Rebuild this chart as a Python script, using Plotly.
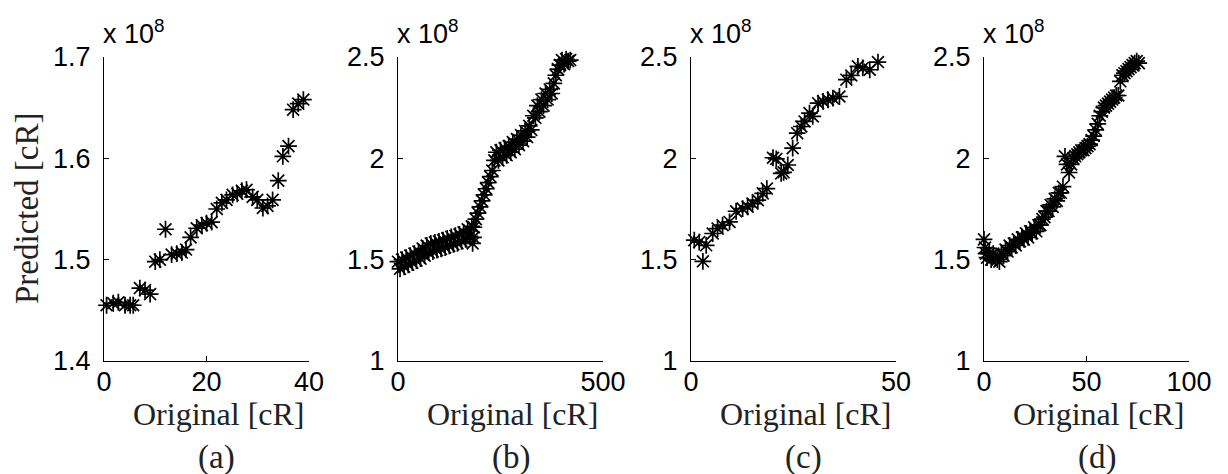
import plotly.graph_objects as go

W, H = 1228, 474

# ---------------- data (Predicted values in units of 1e8) ----------------
a_x = [0.5, 1.8, 2.8, 4.1, 5.1, 5.7, 7.0, 8.0, 9.0, 10.0, 10.9, 12.0, 13.2, 14.2, 15.2, 16.0,
       16.9, 18.1, 19.1, 20.0, 21.0, 22.0, 23.0, 23.9, 25.1, 26.0, 26.9, 27.8, 29.0, 29.9,
       31.0, 31.9, 32.9, 34.0, 34.9, 36.0, 36.9, 37.9, 38.9]
a_y = [1.455, 1.457, 1.458, 1.455, 1.455, 1.455, 1.472, 1.470, 1.466, 1.498, 1.500, 1.530,
       1.505, 1.506, 1.507, 1.510, 1.522, 1.531, 1.534, 1.536, 1.537, 1.550, 1.556, 1.559,
       1.564, 1.565, 1.568, 1.569, 1.562, 1.559, 1.551, 1.553, 1.559, 1.578, 1.602, 1.612,
       1.648, 1.654, 1.658]

b_x = [0, 5, 10, 15, 20, 25, 30, 35, 40, 45, 50, 55, 60, 65, 70, 75, 80, 85, 90, 95, 100,
       105, 110, 115, 120, 125, 130, 135, 140, 145, 150, 155, 160, 165, 170, 175, 180, 182,
       184, 185, 190, 195, 200, 205, 210, 215, 220, 225, 230, 235, 240, 245, 250, 255, 260,
       265, 270, 275, 280, 285, 290, 295, 300, 305, 310, 315, 320, 325, 330, 335, 340, 345,
       350, 355, 360, 365, 370, 375, 380, 385, 390, 395, 400, 405, 410, 415, 420]
b_y = [1.49, 1.455, 1.50, 1.465, 1.51, 1.475, 1.52, 1.485, 1.53, 1.495, 1.54, 1.505, 1.555,
       1.52, 1.57, 1.535, 1.58, 1.54, 1.585, 1.547, 1.59, 1.553, 1.596, 1.56, 1.605, 1.568,
       1.612, 1.575, 1.618, 1.581, 1.625, 1.59, 1.635, 1.60, 1.65, 1.615, 1.665, 1.58, 1.61,
       1.66, 1.70, 1.73, 1.76, 1.79, 1.82, 1.85, 1.88, 1.91, 1.94, 1.99, 2.03, 1.99, 2.04,
       2.005, 2.05, 2.015, 2.06, 2.03, 2.08, 2.045, 2.095, 2.065, 2.115, 2.085, 2.135, 2.105,
       2.16, 2.14, 2.21, 2.20, 2.26, 2.23, 2.29, 2.26, 2.32, 2.29, 2.34, 2.32, 2.37, 2.41,
       2.44, 2.46, 2.485, 2.465, 2.49, 2.48, 2.485]

c_x = [0.8, 2.0, 2.9, 3.7, 5.3, 6.5, 7.7, 9.4, 11.0, 12.6, 13.8, 15.0, 16.3, 17.5, 18.5,
       20.0, 20.8, 22.0, 22.6, 23.6, 24.8, 25.9, 26.9, 27.7, 28.9, 29.7, 31.0, 32.2, 33.4,
       34.6, 36.2, 37.9, 39.1, 40.7, 41.9, 43.6, 45.6]
c_y = [1.596, 1.587, 1.492, 1.571, 1.629, 1.653, 1.670, 1.686, 1.739, 1.752, 1.761, 1.777,
       1.794, 1.827, 1.851, 2.003, 1.997, 1.926, 1.931, 1.967, 2.050, 2.124, 2.157, 2.182,
       2.223, 2.207, 2.272, 2.281, 2.289, 2.297, 2.305, 2.388, 2.409, 2.454, 2.446, 2.437,
       2.475]

d_x = [0, 0.5, 1, 1.5, 2.5, 3.5, 4.5, 5.5, 6.5, 7.5, 8.5, 9.5, 10.5, 11.5, 12.5, 13.5, 14.5,
       15.5, 16.5, 17.5, 18.5, 19.5, 20.5, 21.5, 22.5, 23.5, 24.5, 25.5, 26.5, 27.5, 28.5,
       29.5, 30.5, 31.5, 32.5, 33.5, 34.5, 35.5, 36.5, 37.5, 38.5, 39.5, 40.5, 41.5, 42.5,
       43.5, 44.5, 45.5, 46.5, 47.5, 48.5, 49.5, 50.5, 51.5, 52.5, 53.5, 54.5, 55.5, 56.5,
       57.5, 58.5, 59.5, 60.5, 61.5, 62.5, 63.5, 64.5, 65.5, 66.5, 67.5, 68.5, 69.5, 70.5,
       71.5, 72.5, 73.5, 74.5, 75.5]
d_y = [1.60, 1.56, 1.53, 1.51, 1.53, 1.50, 1.53, 1.51, 1.50, 1.49, 1.53, 1.52, 1.55, 1.54,
       1.57, 1.56, 1.58, 1.57, 1.60, 1.59, 1.61, 1.60, 1.63, 1.61, 1.64, 1.63, 1.66, 1.64,
       1.67, 1.67, 1.70, 1.71, 1.74, 1.74, 1.77, 1.76, 1.80, 1.79, 1.83, 1.83, 1.86, 2.01,
       1.97, 1.93, 1.97, 2.00, 2.01, 2.02, 2.03, 2.04, 2.04, 2.05, 2.06, 2.07, 2.09, 2.11,
       2.14, 2.17, 2.21, 2.23, 2.25, 2.26, 2.27, 2.28, 2.29, 2.30, 2.31, 2.31, 2.38, 2.41,
       2.42, 2.43, 2.44, 2.45, 2.46, 2.47, 2.48, 2.47]

panel_labels = ["(a)", "(b)", "(c)", "(d)"]
x_ranges = [[0, 40], [0, 500], [0, 50], [0, 100]]
x_ticks = [[0, 20, 40], [0, 500], [0, 50], [0, 50, 100]]
y_ranges = [[1.4, 1.7], [1, 2.5], [1, 2.5], [1, 2.5]]
y_ticks = [[1.4, 1.5, 1.6, 1.7], [1, 1.5, 2, 2.5], [1, 1.5, 2, 2.5], [1, 1.5, 2, 2.5]]
x_title = "Original [cR]"
y_title = "Predicted [cR]"
exponent_text = "x 10<sup>8</sup>"

series = [(a_x, a_y), (b_x, b_y), (c_x, c_y), (d_x, d_y)]

# ---------------- layout geometry (pixels) ----------------
axis_left = [104, 398, 691, 984]
axis_w = 205
axis_top, axis_bottom = 57, 361


def PX(px):
    return px / W


def PY(py):
    return 1 - py / H


fig = go.Figure()
tick_font = dict(family="Liberation Sans, Arial, sans-serif", size=27, color="black")
serif = "Liberation Serif, Times New Roman, serif"
annotations = []

for i, (xs, ys) in enumerate(series):
    n = "" if i == 0 else str(i + 1)
    fig.add_trace(go.Scatter(
        x=xs, y=ys, mode="markers", xaxis="x" + n, yaxis="y" + n,
        marker=dict(symbol="asterisk-open", size=14, color="black",
                    line=dict(color="#111", width=1.7)),
        showlegend=False, hoverinfo="skip", cliponaxis=False))
    L = axis_left[i]
    common = dict(showline=True, linecolor="black", linewidth=1, mirror=False,
                  ticks="inside", ticklen=5, tickcolor="black", tickwidth=1,
                  showgrid=False, zeroline=False, tickfont=tick_font, automargin=False)
    fig.update_layout({
        "xaxis" + n: dict(domain=[PX(L), PX(L + axis_w)], anchor="y" + n,
                          range=x_ranges[i], tickmode="array", tickvals=x_ticks[i],
                          ticklabelstandoff=-3, **common),
        "yaxis" + n: dict(domain=[PY(axis_bottom), PY(axis_top)], anchor="x" + n,
                          range=y_ranges[i], tickmode="array", tickvals=y_ticks[i],
                          ticklabelstandoff=7, **common),
    })
    cx = L + axis_w / 2 + 12
    annotations.append(dict(text=x_title, x=PX(cx), y=PY(414), xref="paper", yref="paper",
                            xanchor="center", yanchor="middle", showarrow=False,
                            font=dict(family=serif, size=32, color="#222")))
    annotations.append(dict(text=panel_labels[i], x=PX(cx - 2), y=PY(457), xref="paper",
                            yref="paper", xanchor="center", yanchor="middle",
                            showarrow=False, font=dict(family=serif, size=33, color="#222")))
    annotations.append(dict(text=exponent_text, x=PX(L - 3), y=PY(32), xref="paper",
                            yref="paper", xanchor="left", yanchor="middle",
                            showarrow=False, font=tick_font))

annotations.append(dict(text=y_title, x=PX(27), y=PY(208), xref="paper", yref="paper",
                        xanchor="center", yanchor="middle", textangle=-90, showarrow=False,
                        font=dict(family=serif, size=33, color="#222")))

fig.update_layout(width=W, height=H, margin=dict(l=0, r=0, t=0, b=0, autoexpand=False),
                  paper_bgcolor="white", plot_bgcolor="white",
                  annotations=annotations)

fig.write_html("out.html")
